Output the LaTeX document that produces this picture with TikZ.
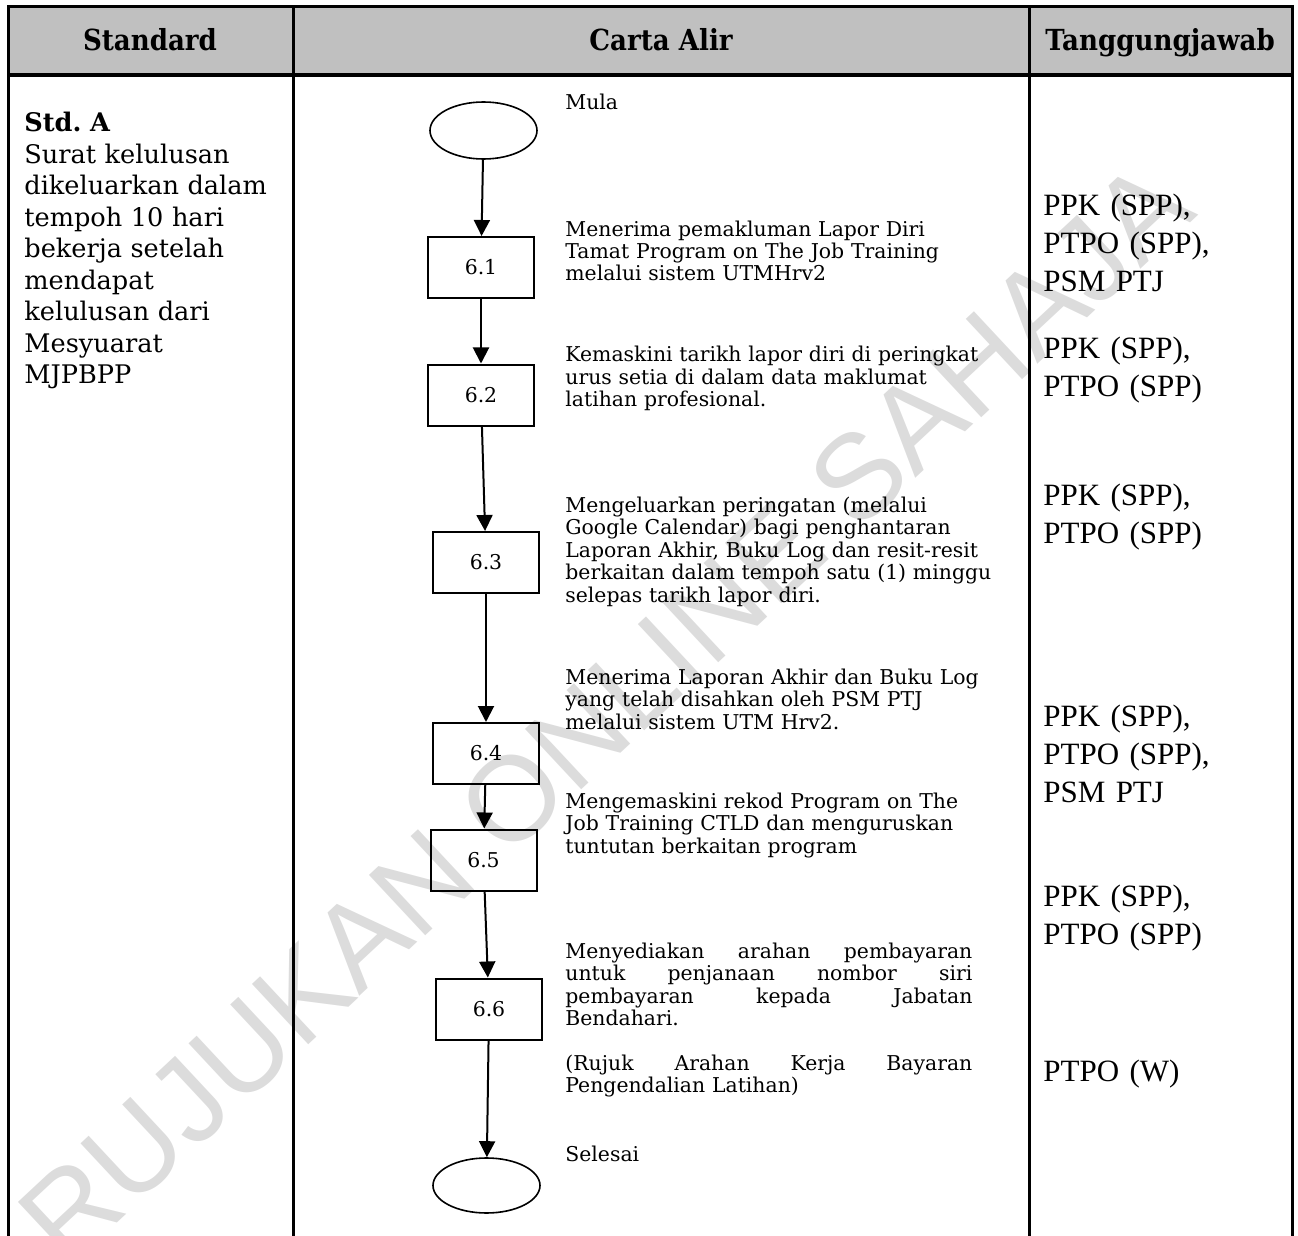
\documentclass[tikz,border=0pt]{standalone}
\usepackage{fontspec}
\setmainfont{DejaVu Serif}
\newfontfamily\headfont[FakeStretch=0.9]{DejaVu Serif}
\newfontfamily\respfont{Liberation Serif}
\newfontfamily\markfont{Liberation Sans}
\usetikzlibrary{arrows.meta,shapes.geometric,positioning}
\definecolor{headgray}{HTML}{C0C0C0}
\definecolor{markgray}{HTML}{DCDCDC}

\begin{document}
\begin{tikzpicture}[x=0.5pt,y=-0.5pt,
    flow/.style={-{Triangle[length=8pt,width=8pt]},line width=1pt}]
    \tikzstyle{proc} = [draw, line width=1pt, minimum width=53pt, minimum height=30.5pt, inner sep=0pt, font=\fontsize{10.2}{12}\selectfont]
    \tikzstyle{term} = [draw, ellipse, line width=0.8pt, minimum width=53.5pt, minimum height=28.5pt, inner sep=0pt]
    \tikzstyle{desc} = [anchor=base west, inner sep=0pt, align=left, text width=215pt, font=\fontsize{10.2}{11.25}\selectfont]
    \tikzstyle{resp} = [anchor=base west, inner sep=0pt, align=left, text width=120pt, font=\respfont\fontsize{15.5}{19}\selectfont]
    \tikzstyle{head} = [anchor=base, inner sep=0pt, font=\headfont\bfseries\fontsize{14.5}{16}\selectfont]
    \useasboundingbox (0,0) rectangle (1298,1236);
    % watermark
    \node[rotate=43, text=markgray, font=\markfont\fontsize{60}{60}\selectfont] (mark) at (605,712) {RUJUKAN ONLINE SAHAJA};
    % table
    \fill[headgray] (8,7) rectangle (1292,75);
    \draw[line width=1.5pt] (8,1236) -- (8,7) -- (1292,7) -- (1292,1236);
    \draw[line width=2pt] (8,75) -- (1292,75);
    \draw[line width=1.5pt] (293,7) -- (293,1236);
    \draw[line width=1.5pt] (1029,7) -- (1029,1236);
    % headers
    \node[head] (hstd) at (150,51) {Standard};
    \node[head] (hflow) at (661,51) {Carta Alir};
    \node[head] (hresp) at (1160,51) {Tanggungjawab};
    % standard
    \node[anchor=base west, inner sep=0pt, align=left, text width=134pt, font=\fontsize{12.8}{15.75}\selectfont] (std) at (24,132)
        {\textbf{Std.\ A}\\Surat kelulusan\\dikeluarkan dalam\\tempoh 10 hari\\bekerja setelah\\mendapat\\kelulusan dari\\Mesyuarat\\MJPBPP};
    % flow
    \node[term] (start) at (483.5,130.5) {};
    \node[proc] (s1) at (481,267.5) {6.1};
    \node[proc] (s2) at (481,395) {6.2};
    \node[proc] (s3) at (486,562.5) {6.3};
    \node[proc] (s4) at (486,753.5) {6.4};
    \node[proc] (s5) at (483.5,860) {6.5};
    \node[proc] (s6) at (489,1009) {6.6};
    \node[term, minimum height=27.5pt] (stop) at (486.5,1185.5) {};
    \draw[flow] (start) -- (s1);
    \draw[flow] (s1) -- (s2);
    \draw[flow] (s2) -- (s3);
    \draw[flow] (s3) -- (s4);
    \draw[flow] (s4) -- (s5);
    \draw[flow] (s5) -- (s6);
    \draw[flow] (s6) -- (stop);
    %%% labels
    \node[desc] (t0) at (565,110) {Mula};
    \node[desc] (t1) at (565,236) {Menerima pemakluman Lapor Diri\\Tamat Program on The Job Training\\melalui sistem UTMHrv2};
    \node[desc] (t2) at (565,362) {Kemaskini tarikh lapor diri di peringkat\\urus setia di dalam data maklumat\\latihan profesional.};
    \node[desc] (t3) at (565,512) {Mengeluarkan peringatan (melalui\\Google Calendar) bagi penghantaran\\Laporan Akhir, Buku Log dan resit-resit\\berkaitan dalam tempoh satu (1) minggu\\selepas tarikh lapor diri.};
    \node[desc] (t4) at (565,684) {Menerima Laporan Akhir dan Buku Log\\yang telah disahkan oleh PSM PTJ\\melalui sistem UTM Hrv2.};
    \node[desc] (t5) at (565,808) {Mengemaskini rekod Program on The\\Job Training CTLD dan menguruskan\\tuntutan berkaitan program};
    \node[desc, text width=203.5pt] (t6) at (565,958) {Menyediakan\hfill arahan\hfill pembayaran\\untuk\hfill penjanaan\hfill nombor\hfill siri\\pembayaran\hfill kepada\hfill Jabatan\\Bendahari.};
    \node[desc, text width=203.5pt] (t7) at (565,1070) {(Rujuk\hfill Arahan\hfill Kerja\hfill Bayaran\\Pengendalian Latihan)};
    \node[desc] (t8) at (565,1161) {Selesai};
    % responsible
    \node[resp] (r1) at (1043,216) {PPK (SPP),\\PTPO (SPP),\\PSM PTJ};
    \node[resp] (r2) at (1043,358) {PPK (SPP),\\PTPO (SPP)};
    \node[resp] (r3) at (1043,505) {PPK (SPP),\\PTPO (SPP)};
    \node[resp] (r4) at (1043,726) {PPK (SPP),\\PTPO (SPP),\\PSM PTJ};
    \node[resp] (r5) at (1043,906) {PPK (SPP),\\PTPO (SPP)};
    \node[resp] (r6) at (1043,1081) {PTPO (W)};
\end{tikzpicture}
\end{document}
